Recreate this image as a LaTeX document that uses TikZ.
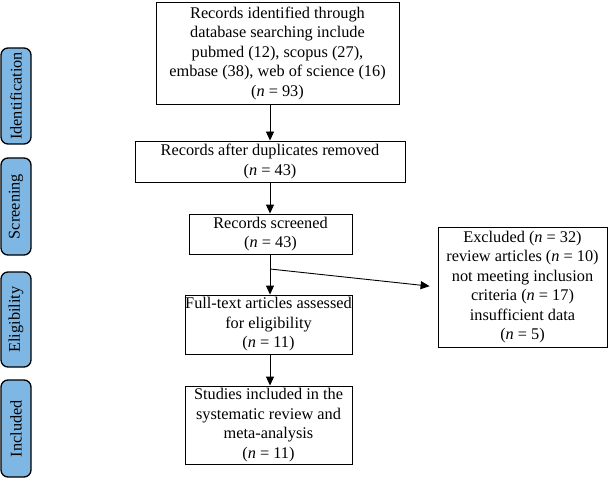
\documentclass[tikz,border=0pt]{standalone}
\usepackage{fontspec}
\setmainfont{Liberation Serif}
\usetikzlibrary{arrows.meta}
\definecolor{sideblue}{RGB}{127,183,228}
\newcommand{\nn}{\textit{n}}
\begin{document}
\begin{tikzpicture}[x=1pt,y=-1pt,
  font=\fontsize{16.3}{19.5}\selectfont,
  box/.style={draw=black,line width=0.9pt,inner sep=0pt,align=center,anchor=center},
  side/.style={draw=black,line width=1.3pt,fill=sideblue,rounded corners=7pt,inner sep=0pt,
     minimum height=30pt,rotate=90,anchor=center},
  arr/.style={line width=0.9pt,-{Triangle[length=9pt,width=8pt]}}]
\useasboundingbox (0,0) rectangle (609,478);
\node[box,minimum width=243pt,minimum height=102pt] (top) at (277.5,53)
  {Records identified through\\database searching include\\pubmed (12), scopus (27),\\embase (38), web of science (16)\\(\nn{} = 93)};
\node[box,minimum width=270pt,minimum height=41pt] (dup) at (270,161.5)
  {Records after duplicates removed\\(\nn{} = 43)};
\node[box,minimum width=163pt,minimum height=40pt] (scr) at (270.5,234)
  {Records screened\\(\nn{} = 43)};
\node[box,minimum width=167pt,minimum height=59pt] (full) at (268.5,324.5)
  {Full-text articles assessed\\for eligibility\\(\nn{} = 11)};
\node[box,minimum width=167pt,minimum height=78pt] (inc) at (268.5,425)
  {Studies included in the\\systematic review and\\meta-analysis\\(\nn{} = 11)};
\node[box,minimum width=169pt,minimum height=120pt] (exc) at (522.5,287)
  {Excluded (\nn{} = 32)\\review articles (\nn{} = 10)\\not meeting inclusion\\criteria (\nn{} = 17)\\insufficient data\\(\nn{} = 5)};
\node[side,minimum width=96pt] (s1) at (16,96) {Identification};
\node[side,minimum width=97pt] (s2) at (16,206.5) {Screening};
\node[side,minimum width=95pt] (s3) at (16,319.5) {Eligibility};
\node[side,minimum width=97pt] (s4) at (16,428.5) {Included};
\coordinate (br) at (270,269);
\draw[arr] (top.south -| dup.north) -- (dup.north);
\draw[arr] (dup.south) -- (dup.south |- scr.north);
\draw[arr] (scr.south -| br) -- (br |- full.north);
\draw[arr,shorten >=8pt] (br) -- (exc.west);
\draw[arr] (full.south -| br) -- (br |- inc.north);
\end{tikzpicture}
\end{document}
